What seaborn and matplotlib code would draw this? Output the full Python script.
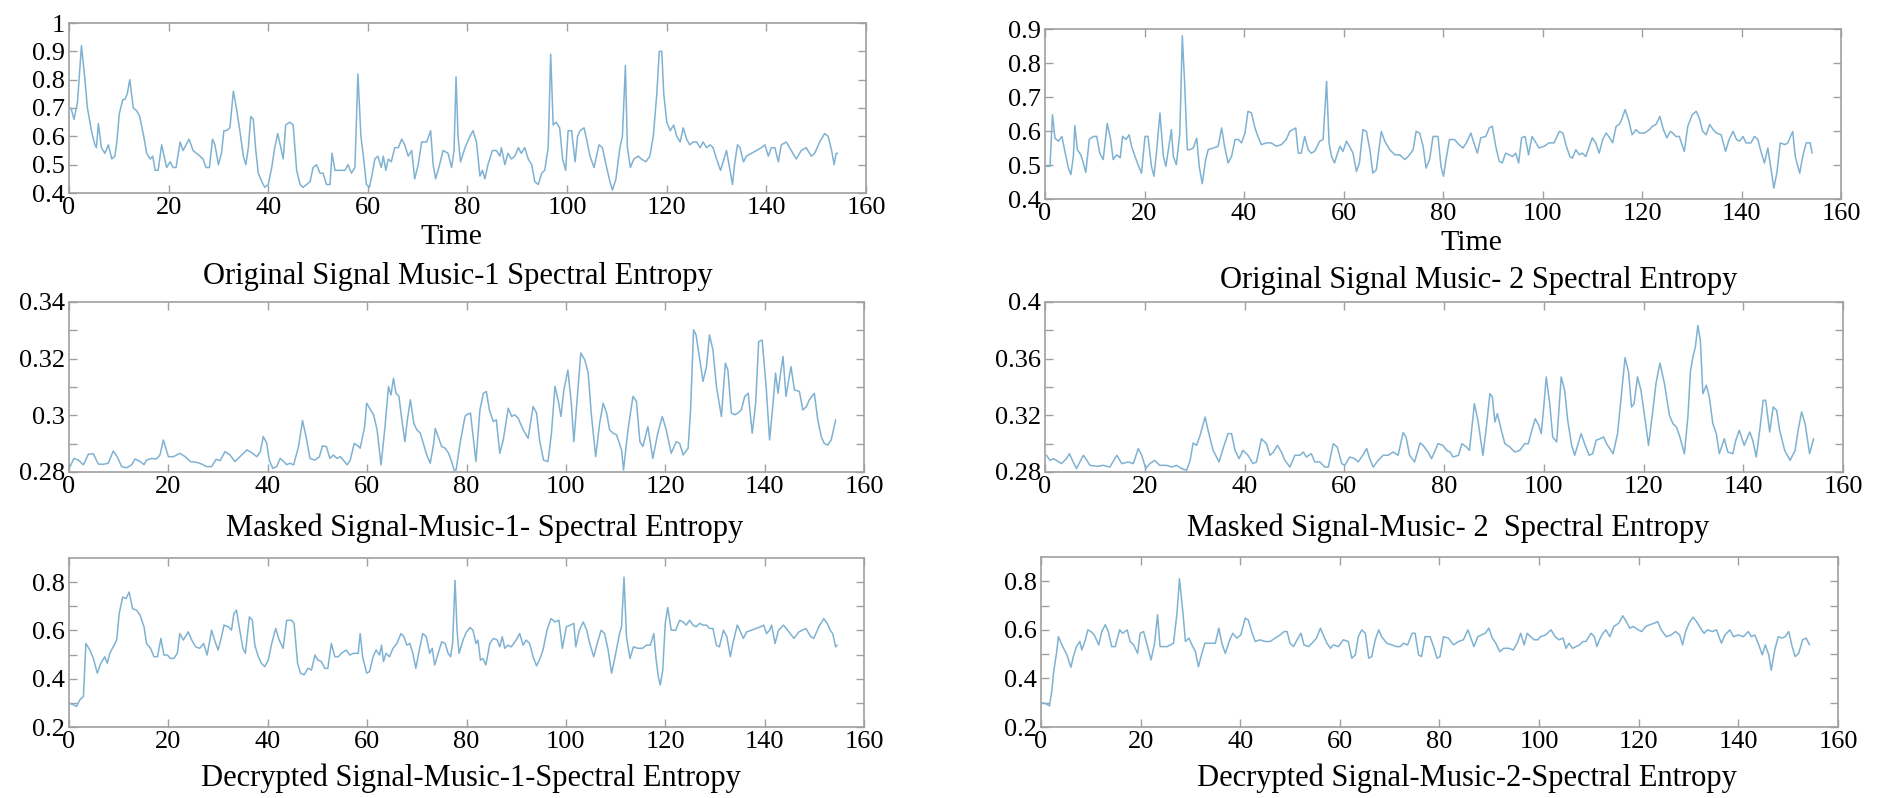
import matplotlib
matplotlib.use("Agg")
import matplotlib.pyplot as plt
import pandas as pd
import seaborn as sns

# Spectral entropy traces: (time, entropy) pairs
orig1 = [(0.4,0.70),(1.0,0.66),(1.7,0.72),(2.5,0.92),(3.2,0.80),(3.7,0.70),(4.5,0.62),(5.2,0.57),(5.5,0.56),(5.9,0.645),(6.5,0.56),(7.2,0.54),(7.9,0.57),(8.6,0.52),(9.2,0.53),(9.6,0.58),(10.1,0.68),(10.8,0.73),(11.2,0.73),(11.7,0.75),(12.2,0.80),(12.9,0.70),(13.6,0.69),(14.2,0.67),(15.0,0.60),(15.6,0.54),(16.3,0.52),(16.8,0.53),(17.3,0.48),(17.9,0.48),(18.6,0.57),(19.1,0.53),(19.6,0.49),(20.3,0.51),(20.9,0.49),(21.5,0.49),(22.3,0.58),(22.9,0.55),(23.5,0.57),(24.1,0.59),(24.9,0.55),(25.6,0.54),(26.3,0.53),(26.9,0.52),(27.5,0.49),(28.2,0.49),(28.8,0.59),(29.3,0.57),(30.0,0.50),(30.6,0.54),(31.1,0.62),(31.6,0.62),(32.3,0.63),(33.0,0.76),(33.6,0.70),(34.3,0.62),(35.0,0.53),(35.5,0.50),(36.0,0.56),(36.5,0.67),(37.0,0.66),(37.5,0.55),(38.0,0.47),(38.7,0.44),(39.3,0.42),(40.0,0.43),(40.7,0.49),(41.3,0.56),(41.9,0.61),(42.4,0.57),(43.0,0.52),(43.5,0.64),(44.3,0.65),(45.0,0.64),(45.7,0.48),(46.4,0.43),(47.0,0.42),(47.7,0.43),(48.4,0.44),(49.0,0.49),(49.7,0.50),(50.4,0.47),(51.0,0.47),(51.7,0.43),(52.4,0.43),(52.8,0.54),(53.4,0.48),(54.0,0.48),(54.7,0.48),(55.4,0.48),(56.0,0.50),(56.7,0.47),(57.4,0.49),(58.0,0.82),(58.6,0.60),(59.1,0.53),(59.7,0.43),(60.3,0.42),(60.8,0.46),(61.4,0.52),(62.0,0.53),(62.7,0.49),(63.1,0.53),(63.6,0.48),(64.1,0.52),(64.7,0.51),(65.4,0.56),(66.1,0.56),(66.8,0.59),(67.4,0.57),(68.1,0.53),(68.8,0.55),(69.4,0.45),(70.1,0.50),(70.8,0.58),(71.8,0.58),(72.6,0.62),(73.1,0.50),(73.6,0.45),(74.4,0.50),(75.1,0.55),(76.1,0.54),(76.8,0.49),(77.3,0.55),(77.7,0.81),(78.1,0.60),(78.6,0.51),(79.5,0.56),(80.5,0.60),(81.1,0.62),(81.8,0.58),(82.1,0.53),(82.5,0.46),(83.0,0.48),(83.5,0.45),(84.1,0.50),(85.0,0.55),(85.8,0.55),(86.5,0.53),(86.8,0.56),(87.5,0.50),(88.1,0.54),(88.8,0.52),(89.5,0.53),(90.2,0.56),(90.8,0.54),(91.5,0.56),(92.2,0.52),(92.9,0.50),(93.5,0.44),(94.2,0.43),(94.9,0.47),(95.5,0.48),(96.2,0.56),(96.7,0.89),(97.2,0.64),(97.8,0.65),(98.5,0.63),(99.1,0.52),(99.7,0.48),(100.2,0.62),(100.9,0.62),(101.6,0.51),(102.1,0.60),(102.6,0.62),(103.4,0.63),(103.9,0.59),(104.6,0.53),(105.4,0.49),(105.9,0.53),(106.4,0.57),(107.1,0.56),(107.8,0.50),(108.6,0.44),(109.1,0.41),(109.8,0.45),(110.6,0.56),(111.1,0.60),(111.7,0.85),(112.1,0.56),(112.7,0.49),(113.4,0.52),(114.3,0.53),(114.9,0.52),(115.8,0.51),(116.6,0.53),(117.3,0.60),(118.0,0.75),(118.5,0.90),(119.0,0.90),(119.4,0.75),(120.0,0.65),(120.7,0.62),(121.4,0.64),(122.0,0.60),(122.7,0.58),(123.3,0.63),(124.0,0.59),(124.6,0.57),(125.3,0.58),(126.0,0.58),(126.7,0.56),(127.3,0.58),(128.0,0.56),(128.7,0.57),(129.3,0.56),(130.0,0.52),(130.8,0.48),(131.5,0.52),(132.0,0.55),(132.7,0.48),(133.2,0.43),(133.6,0.50),(134.2,0.57),(134.7,0.56),(135.4,0.51),(136.0,0.53),(137.0,0.54),(138.0,0.55),(139.0,0.56),(139.7,0.57),(140.4,0.53),(141.0,0.56),(141.7,0.56),(142.4,0.51),(143.0,0.57),(144.0,0.58),(145.0,0.55),(146.0,0.52),(147.0,0.55),(148.0,0.56),(149.0,0.53),(149.7,0.54),(150.7,0.58),(151.7,0.61),(152.4,0.60),(153.1,0.55),(153.6,0.50),(154.0,0.54),(154.3,0.54)]

masked1 = [(0.2,0.2819),(1.0,0.2848),(1.9,0.2842),(2.9,0.2825),(3.9,0.2863),(4.9,0.2864),(5.9,0.2828),(6.9,0.2827),(7.9,0.2831),(8.9,0.2874),(9.7,0.2854),(10.6,0.2819),(11.6,0.2815),(12.6,0.2825),(13.3,0.2846),(14.3,0.2837),(15.1,0.2826),(15.6,0.2842),(16.6,0.2848),(17.6,0.2846),(18.3,0.2860),(19.0,0.2913),(20.0,0.2854),(21.0,0.2854),(22.3,0.2866),(23.4,0.2854),(24.4,0.2837),(25.7,0.2834),(26.7,0.2828),(27.7,0.2819),(28.7,0.2819),(29.6,0.2845),(30.4,0.2840),(31.4,0.2872),(32.4,0.2860),(33.4,0.2837),(34.4,0.2854),(35.8,0.2878),(36.8,0.2868),(37.8,0.2854),(38.5,0.2872),(39.1,0.2925),(39.8,0.2901),(40.3,0.2842),(41.0,0.2813),(41.8,0.2819),(42.5,0.2848),(43.2,0.2837),(43.8,0.2826),(44.5,0.2831),(45.2,0.2825),(46.2,0.2890),(47.0,0.2982),(47.7,0.2925),(48.5,0.2848),(49.5,0.2842),(50.4,0.2854),(51.0,0.2892),(51.8,0.2890),(52.5,0.2848),(53.2,0.2860),(53.9,0.2848),(54.6,0.2854),(55.2,0.2842),(56.0,0.2825),(56.6,0.2842),(57.4,0.2901),(58.3,0.2890),(58.6,0.2884),(59.5,0.2960),(59.9,0.3043),(60.7,0.3019),(61.3,0.3002),(62.0,0.2949),(62.8,0.2825),(63.6,0.2960),(64.3,0.3102),(64.8,0.3072),(65.3,0.3131),(65.8,0.3078),(66.4,0.3067),(66.9,0.2996),(67.6,0.2907),(68.1,0.2984),(68.7,0.3055),(69.4,0.2972),(70.0,0.2949),(70.7,0.2937),(71.3,0.2901),(72.0,0.2860),(72.7,0.2831),(73.4,0.2901),(73.7,0.2954),(74.4,0.2919),(75.0,0.2890),(75.7,0.2884),(76.4,0.2866),(77.0,0.2837),(77.5,0.2807),(77.9,0.2807),(78.7,0.2901),(79.7,0.2996),(80.0,0.3002),(80.8,0.3008),(81.9,0.2837),(82.7,0.3019),(83.4,0.3078),(84.0,0.3084),(84.6,0.3019),(85.4,0.2978),(86.0,0.2984),(86.7,0.2866),(87.4,0.2913),(88.4,0.3025),(89.1,0.2996),(89.7,0.3002),(90.4,0.2990),(91.4,0.2949),(92.4,0.2919),(93.4,0.3031),(94.1,0.3008),(94.7,0.2913),(95.5,0.2842),(96.4,0.2837),(97.1,0.2937),(97.8,0.3102),(98.5,0.3049),(99.0,0.2996),(99.6,0.3090),(100.4,0.3160),(101.1,0.3043),(101.6,0.2907),(102.2,0.3043),(103.0,0.3220),(103.8,0.3196),(104.5,0.3149),(105.1,0.3008),(106.0,0.2854),(106.8,0.2972),(107.5,0.3043),(108.2,0.3008),(108.8,0.2949),(109.5,0.2937),(110.2,0.2931),(111.2,0.2878),(111.6,0.2807),(112.5,0.2949),(113.5,0.3067),(114.2,0.3049),(114.9,0.2907),(115.5,0.2890),(116.5,0.2960),(117.5,0.2848),(118.5,0.2937),(119.4,0.2996),(120.2,0.2949),(121.2,0.2866),(122.2,0.2907),(122.9,0.2901),(123.6,0.2860),(124.6,0.2884),(125.1,0.3019),(125.7,0.3302),(126.2,0.3284),(127.0,0.3190),(127.6,0.3120),(128.3,0.3172),(128.9,0.3284),(129.6,0.3231),(130.3,0.3102),(131.3,0.2996),(132.1,0.3184),(132.6,0.3160),(133.3,0.3008),(134.0,0.3002),(134.6,0.3008),(135.3,0.3019),(136.0,0.3067),(136.7,0.3078),(137.5,0.2937),(138.2,0.3043),(138.8,0.3260),(139.5,0.3266),(140.3,0.3102),(141.0,0.2913),(141.7,0.3043),(142.2,0.3149),(142.7,0.3078),(143.3,0.3160),(143.7,0.3208),(144.3,0.3067),(145.3,0.3172),(146.0,0.3090),(147.0,0.3084),(147.7,0.3019),(148.4,0.3031),(149.0,0.3055),(150.0,0.3078),(150.7,0.2984),(151.4,0.2925),(152.0,0.2901),(152.7,0.2895),(153.4,0.2913),(154.3,0.2984)]

decrypted1 = [(0.0,0.299),(0.9,0.292),(1.5,0.285),(2.2,0.313),(2.9,0.326),(3.4,0.546),(4.2,0.519),(4.9,0.484),(5.7,0.423),(6.4,0.464),(7.2,0.491),(7.7,0.464),(8.2,0.505),(8.9,0.532),(9.6,0.560),(10.1,0.670),(10.8,0.738),(11.5,0.732),(12.1,0.759),(12.8,0.690),(13.6,0.684),(14.3,0.663),(15.1,0.615),(15.6,0.546),(16.4,0.526),(17.1,0.491),(17.8,0.491),(18.5,0.567),(19.1,0.498),(19.8,0.498),(20.4,0.484),(21.1,0.484),(21.8,0.505),(22.3,0.587),(23.0,0.560),(24.0,0.594),(24.7,0.560),(25.5,0.532),(26.3,0.526),(27.1,0.546),(27.8,0.498),(28.7,0.601),(29.3,0.560),(30.0,0.519),(30.7,0.574),(31.2,0.622),(32.1,0.615),(32.7,0.601),(33.2,0.670),(33.7,0.684),(34.2,0.622),(35.0,0.526),(35.5,0.505),(36.3,0.656),(36.9,0.642),(37.4,0.539),(38.1,0.491),(38.7,0.464),(39.4,0.450),(40.1,0.477),(40.8,0.546),(41.6,0.608),(42.3,0.560),(43.1,0.526),(43.8,0.642),(44.8,0.642),(45.3,0.629),(46.0,0.464),(46.6,0.423),(47.3,0.416),(48.1,0.443),(48.8,0.436),(49.5,0.498),(50.1,0.477),(50.8,0.471),(51.5,0.443),(52.1,0.443),(52.8,0.546),(53.5,0.491),(54.2,0.491),(54.8,0.505),(55.8,0.519),(56.5,0.498),(57.2,0.505),(58.2,0.505),(58.6,0.587),(59.1,0.491),(59.9,0.423),(60.5,0.430),(61.2,0.491),(61.8,0.519),(62.5,0.498),(62.9,0.539),(63.3,0.471),(63.8,0.505),(64.5,0.491),(65.2,0.526),(66.0,0.546),(66.8,0.587),(67.4,0.574),(68.0,0.539),(68.6,0.546),(69.2,0.505),(69.8,0.443),(70.5,0.519),(71.2,0.587),(71.9,0.574),(72.6,0.505),(73.1,0.526),(73.6,0.457),(74.3,0.505),(75.0,0.553),(75.7,0.546),(76.3,0.505),(76.8,0.491),(77.2,0.546),(77.7,0.807),(78.1,0.601),(78.5,0.505),(79.3,0.560),(80.0,0.594),(80.7,0.612),(81.3,0.601),(81.9,0.546),(82.3,0.560),(82.8,0.477),(83.3,0.484),(83.9,0.457),(84.7,0.546),(85.4,0.567),(86.2,0.560),(86.7,0.532),(87.2,0.574),(87.7,0.526),(88.3,0.539),(89.0,0.532),(90.0,0.560),(90.7,0.587),(91.4,0.539),(92.0,0.560),(92.7,0.546),(93.4,0.491),(94.1,0.453),(94.8,0.484),(95.4,0.519),(96.2,0.601),(97.0,0.649),(97.8,0.635),(98.6,0.642),(99.3,0.526),(100.1,0.615),(100.9,0.622),(101.6,0.629),(102.0,0.532),(102.7,0.601),(103.5,0.635),(104.2,0.601),(104.8,0.546),(105.6,0.491),(106.5,0.560),(107.1,0.601),(107.8,0.587),(108.5,0.519),(109.2,0.423),(109.9,0.491),(110.8,0.587),(111.2,0.615),(111.7,0.821),(112.2,0.574),(112.9,0.484),(113.6,0.532),(114.5,0.526),(115.4,0.526),(116.2,0.539),(117.0,0.539),(117.7,0.587),(118.1,0.491),(118.6,0.409),(119.0,0.374),(119.5,0.436),(120.0,0.629),(120.5,0.695),(121.2,0.601),(122.1,0.601),(122.9,0.642),(123.6,0.635),(124.2,0.622),(124.9,0.642),(125.6,0.622),(126.2,0.615),(126.9,0.629),(127.6,0.622),(128.3,0.622),(128.9,0.608),(129.6,0.608),(130.3,0.539),(130.9,0.532),(131.7,0.601),(132.4,0.574),(133.1,0.491),(133.6,0.546),(134.5,0.622),(135.0,0.601),(135.7,0.567),(136.4,0.594),(137.4,0.601),(138.2,0.608),(139.2,0.615),(139.8,0.622),(140.4,0.587),(141.0,0.601),(141.4,0.622),(142.1,0.546),(142.8,0.601),(143.8,0.622),(144.9,0.594),(145.9,0.567),(146.9,0.594),(148.3,0.608),(149.3,0.574),(149.9,0.567),(150.9,0.615),(151.9,0.649),(152.6,0.629),(153.2,0.601),(153.7,0.587),(154.3,0.532),(154.6,0.539)]

orig2 = [(0.3,0.496),(1.0,0.496),(1.5,0.648),(2.0,0.579),(2.7,0.570),(3.4,0.584),(4.0,0.540),(4.7,0.491),(5.2,0.472),(5.7,0.525),(6.0,0.616),(6.5,0.545),(7.2,0.530),(7.7,0.506),(8.2,0.478),(8.9,0.575),(9.7,0.584),(10.4,0.584),(11.0,0.535),(11.7,0.516),(12.5,0.622),(13.2,0.575),(13.7,0.516),(14.4,0.530),(15.1,0.521),(15.6,0.584),(16.3,0.575),(16.9,0.589),(17.4,0.555),(18.1,0.525),(18.7,0.501),(19.4,0.476),(20.1,0.584),(20.7,0.584),(21.4,0.496),(21.9,0.467),(22.4,0.535),(23.1,0.653),(23.8,0.525),(24.3,0.496),(24.8,0.545),(25.4,0.604),(25.8,0.525),(26.4,0.501),(27.1,0.594),(27.6,0.880),(28.1,0.731),(28.6,0.545),(29.1,0.545),(29.8,0.550),(30.5,0.579),(31.0,0.496),(31.6,0.445),(32.3,0.516),(32.8,0.545),(33.8,0.550),(34.8,0.555),(35.5,0.609),(36.1,0.555),(36.8,0.506),(37.5,0.525),(38.2,0.575),(38.9,0.575),(39.5,0.565),(40.2,0.594),(40.8,0.658),(41.5,0.653),(42.2,0.609),(42.8,0.584),(43.5,0.560),(44.5,0.565),(45.5,0.565),(46.5,0.555),(47.5,0.560),(48.5,0.575),(49.2,0.599),(49.8,0.604),(50.4,0.609),(50.9,0.535),(51.5,0.535),(52.2,0.584),(52.9,0.545),(53.5,0.535),(54.2,0.540),(55.2,0.570),(55.9,0.575),(56.6,0.746),(57.1,0.565),(57.6,0.525),(58.2,0.506),(58.7,0.530),(59.3,0.555),(59.9,0.540),(60.6,0.570),(61.2,0.555),(61.9,0.535),(62.6,0.481),(63.2,0.506),(63.9,0.604),(64.6,0.599),(65.3,0.545),(65.9,0.476),(66.6,0.486),(67.6,0.599),(68.3,0.570),(69.3,0.545),(70.3,0.530),(71.3,0.530),(72.3,0.516),(73.0,0.525),(74.0,0.545),(74.6,0.599),(75.3,0.594),(76.0,0.555),(76.6,0.491),(77.3,0.516),(78.0,0.584),(79.0,0.584),(79.6,0.496),(80.1,0.467),(80.6,0.516),(81.3,0.575),(82.3,0.575),(83.2,0.560),(84.0,0.550),(84.7,0.565),(85.6,0.594),(86.2,0.565),(86.9,0.535),(87.6,0.580),(88.6,0.584),(89.3,0.609),(89.9,0.614),(90.6,0.555),(91.3,0.511),(91.9,0.506),(92.6,0.535),(93.3,0.530),(94.0,0.525),(94.6,0.535),(95.2,0.506),(95.8,0.580),(96.5,0.584),(97.2,0.530),(97.9,0.584),(98.7,0.565),(99.3,0.550),(100.3,0.555),(101.3,0.565),(102.3,0.565),(103.4,0.599),(104.1,0.594),(104.8,0.555),(105.5,0.525),(106.0,0.520),(106.7,0.545),(107.4,0.530),(108.0,0.535),(108.7,0.525),(109.4,0.555),(110.0,0.580),(110.7,0.565),(111.4,0.535),(112.1,0.575),(112.8,0.594),(113.5,0.580),(114.1,0.565),(114.8,0.614),(115.4,0.619),(115.9,0.633),(116.6,0.663),(117.3,0.633),(118.0,0.589),(118.8,0.604),(119.5,0.594),(120.5,0.594),(121.5,0.604),(122.1,0.614),(122.8,0.619),(123.6,0.643),(124.3,0.604),(125.0,0.580),(125.7,0.599),(126.2,0.594),(126.8,0.584),(127.5,0.584),(128.5,0.540),(129.2,0.614),(130.1,0.648),(130.9,0.658),(131.5,0.638),(132.2,0.599),(132.9,0.589),(133.6,0.619),(134.3,0.604),(135.0,0.594),(135.9,0.589),(136.8,0.540),(137.5,0.575),(138.3,0.599),(139.0,0.575),(139.6,0.570),(140.3,0.584),(140.9,0.565),(141.9,0.565),(142.6,0.584),(143.3,0.575),(143.9,0.540),(144.6,0.506),(145.3,0.550),(145.8,0.501),(146.5,0.432),(147.1,0.476),(147.8,0.565),(148.7,0.560),(149.3,0.565),(150.3,0.599),(150.8,0.525),(151.7,0.476),(152.3,0.525),(153.0,0.565),(153.8,0.565),(154.2,0.535)]

masked2 = [(0.3,0.2918),(1.0,0.2882),(1.7,0.2894),(2.3,0.2882),(3.3,0.2859),(4.3,0.2894),(4.9,0.2929),(5.5,0.2882),(6.3,0.2824),(7.0,0.2871),(7.7,0.2918),(8.4,0.2882),(9.0,0.2847),(10.4,0.2840),(11.7,0.2847),(13.0,0.2835),(14.4,0.2918),(15.4,0.2859),(16.7,0.2871),(17.7,0.2859),(18.7,0.2965),(19.4,0.2918),(20.2,0.2824),(21.0,0.2859),(22.0,0.2882),(23.0,0.2847),(24.4,0.2847),(25.4,0.2835),(26.4,0.2847),(27.4,0.2824),(28.4,0.2812),(29.1,0.2882),(29.7,0.3005),(30.4,0.2988),(31.1,0.3059),(32.1,0.3188),(32.7,0.3094),(33.7,0.2953),(34.9,0.2871),(35.7,0.2965),(36.7,0.3071),(37.4,0.3071),(38.1,0.2953),(38.9,0.2894),(39.7,0.2953),(40.7,0.2918),(41.7,0.2859),(42.4,0.2871),(43.4,0.3035),(44.4,0.3000),(45.1,0.2918),(45.8,0.2941),(46.6,0.2988),(47.4,0.2941),(48.1,0.2882),(49.1,0.2835),(50.1,0.2918),(51.1,0.2918),(51.8,0.2941),(52.4,0.2906),(53.4,0.2929),(54.1,0.2871),(55.1,0.2871),(56.1,0.2835),(56.8,0.2835),(57.8,0.3000),(58.6,0.2976),(59.5,0.2859),(60.1,0.2847),(61.1,0.2906),(62.1,0.2894),(62.8,0.2871),(63.7,0.2918),(64.5,0.2965),(65.1,0.2894),(65.8,0.2835),(66.8,0.2882),(67.8,0.2918),(68.8,0.2918),(69.8,0.2941),(70.8,0.2918),(71.8,0.3078),(72.4,0.3047),(73.1,0.2918),(74.1,0.2871),(75.2,0.3005),(75.8,0.2988),(76.8,0.2941),(77.5,0.2894),(78.1,0.2941),(78.8,0.3000),(79.8,0.2988),(80.5,0.2953),(81.2,0.2941),(81.8,0.2906),(82.9,0.2918),(83.6,0.3000),(84.5,0.2976),(85.1,0.2953),(86.1,0.3282),(86.8,0.3165),(87.8,0.2918),(88.5,0.3118),(89.2,0.3353),(89.7,0.3329),(90.2,0.3153),(90.7,0.3212),(91.5,0.3094),(92.2,0.3000),(93.2,0.2976),(94.2,0.2941),(95.2,0.2953),(96.2,0.3000),(96.9,0.3000),(97.6,0.3094),(98.3,0.3176),(99.0,0.3129),(99.5,0.3071),(100.0,0.3259),(100.5,0.3471),(101.2,0.3282),(101.8,0.3047),(102.6,0.3012),(103.5,0.3471),(104.2,0.3376),(104.8,0.3165),(105.6,0.2988),(106.2,0.2918),(106.8,0.2988),(107.5,0.3071),(108.3,0.2988),(109.1,0.2918),(109.8,0.2929),(110.5,0.3024),(111.3,0.3035),(112.0,0.3047),(112.6,0.3000),(113.9,0.2929),(114.8,0.3071),(115.6,0.3353),(116.3,0.3607),(117.0,0.3506),(117.6,0.3259),(118.1,0.3282),(118.8,0.3471),(119.5,0.3376),(120.2,0.3200),(121.0,0.2988),(121.8,0.3212),(122.5,0.3424),(123.3,0.3569),(124.2,0.3424),(125.2,0.3200),(125.9,0.3141),(126.6,0.3118),(127.3,0.3047),(128.2,0.2929),(128.9,0.3188),(129.4,0.3506),(129.9,0.3612),(130.4,0.3682),(130.9,0.3835),(131.4,0.3729),(131.9,0.3353),(132.6,0.3412),(133.2,0.3329),(133.9,0.3141),(134.6,0.3071),(135.2,0.2929),(136.2,0.3035),(136.9,0.2941),(137.9,0.2929),(138.5,0.3024),(139.2,0.3094),(140.2,0.2988),(141.3,0.3082),(141.9,0.3024),(142.6,0.2906),(143.3,0.3094),(144.0,0.3306),(144.5,0.3306),(145.3,0.3082),(146.0,0.3259),(146.7,0.3235),(147.3,0.3094),(148.3,0.2953),(149.4,0.2882),(150.4,0.2953),(151.0,0.3094),(151.7,0.3224),(152.4,0.3141),(153.3,0.2929),(154.1,0.3035)]

decrypted2 = [(0.2,0.299),(0.9,0.297),(1.7,0.287),(2.2,0.352),(2.5,0.421),(3.1,0.503),(3.5,0.572),(4.2,0.538),(5.2,0.497),(6.0,0.446),(6.5,0.490),(7.1,0.531),(7.8,0.552),(8.2,0.517),(8.9,0.559),(9.4,0.600),(10.0,0.593),(10.7,0.579),(11.6,0.538),(12.2,0.593),(12.9,0.621),(13.5,0.593),(14.2,0.531),(14.9,0.531),(15.8,0.600),(16.4,0.586),(17.3,0.600),(17.9,0.552),(18.6,0.538),(19.4,0.503),(19.9,0.586),(20.6,0.593),(21.3,0.538),(22.1,0.476),(22.8,0.545),(23.4,0.662),(23.9,0.531),(24.6,0.531),(25.3,0.531),(26.0,0.538),(26.6,0.545),(27.3,0.669),(27.8,0.810),(28.5,0.669),(29.0,0.552),(29.7,0.566),(30.3,0.538),(31.0,0.510),(31.6,0.448),(32.3,0.503),(32.9,0.545),(33.9,0.545),(35.0,0.545),(35.7,0.607),(36.3,0.545),(37.0,0.503),(37.9,0.559),(38.5,0.586),(39.3,0.566),(40.1,0.579),(41.0,0.648),(41.6,0.641),(42.4,0.586),(43.0,0.552),(44.0,0.559),(45.0,0.552),(46.0,0.552),(47.0,0.566),(48.0,0.579),(48.8,0.593),(49.4,0.593),(50.0,0.545),(50.7,0.531),(51.4,0.559),(52.2,0.586),(52.8,0.538),(53.7,0.531),(54.4,0.545),(55.3,0.566),(56.1,0.607),(56.8,0.572),(57.4,0.545),(58.1,0.524),(58.7,0.538),(59.7,0.531),(60.7,0.559),(61.7,0.552),(62.4,0.483),(63.1,0.497),(63.7,0.572),(64.4,0.600),(65.1,0.586),(65.8,0.483),(66.4,0.490),(67.1,0.559),(67.8,0.600),(68.4,0.572),(69.4,0.545),(70.4,0.538),(71.4,0.531),(72.1,0.531),(72.8,0.545),(73.6,0.538),(74.5,0.586),(75.1,0.586),(75.8,0.497),(76.4,0.490),(77.1,0.572),(78.1,0.572),(78.8,0.531),(79.5,0.483),(80.1,0.490),(80.8,0.572),(81.8,0.566),(82.8,0.538),(83.8,0.552),(84.8,0.559),(85.7,0.600),(86.2,0.572),(86.9,0.531),(87.7,0.572),(88.4,0.579),(89.2,0.586),(89.9,0.607),(90.6,0.566),(91.3,0.545),(92.1,0.510),(92.9,0.524),(94.0,0.524),(94.8,0.517),(95.6,0.545),(96.3,0.586),(97.0,0.538),(97.6,0.586),(98.3,0.572),(99.0,0.559),(99.7,0.559),(100.3,0.572),(101.3,0.579),(102.4,0.600),(103.2,0.572),(104.0,0.559),(104.8,0.566),(105.4,0.524),(106.0,0.545),(106.7,0.524),(107.4,0.531),(108.1,0.538),(108.8,0.552),(109.4,0.552),(110.4,0.586),(111.1,0.572),(111.6,0.531),(112.1,0.559),(112.8,0.586),(113.4,0.600),(114.2,0.572),(115.0,0.614),(116.0,0.628),(116.8,0.658),(117.5,0.634),(118.2,0.607),(118.9,0.614),(119.9,0.600),(120.6,0.593),(121.4,0.614),(122.2,0.621),(123.2,0.628),(123.8,0.634),(124.5,0.600),(125.5,0.572),(126.5,0.579),(127.4,0.593),(128.2,0.579),(128.8,0.538),(129.4,0.593),(130.1,0.628),(130.9,0.652),(131.6,0.634),(132.4,0.607),(133.1,0.586),(133.8,0.600),(134.8,0.593),(135.6,0.600),(136.6,0.545),(137.3,0.579),(138.3,0.600),(139.0,0.572),(140.0,0.579),(141.0,0.572),(142.0,0.593),(142.6,0.572),(143.3,0.579),(144.1,0.538),(144.8,0.497),(145.4,0.538),(146.1,0.497),(146.6,0.434),(147.3,0.517),(148.0,0.572),(148.8,0.566),(149.4,0.572),(150.1,0.593),(150.8,0.531),(151.4,0.490),(152.1,0.503),(152.9,0.559),(153.6,0.566),(154.3,0.538)]

# Axis tick settings per panel
x_ticks = [0, 20, 40, 60, 80, 100, 120, 140, 160]
yt_orig1 = [0.4, 0.5, 0.6, 0.7, 0.8, 0.9, 1.0]
yl_orig1 = ["0.4", "0.5", "0.6", "0.7", "0.8", "0.9", "1"]
yt_orig2 = [0.4, 0.5, 0.6, 0.7, 0.8, 0.9]
yl_orig2 = ["0.4", "0.5", "0.6", "0.7", "0.8", "0.9"]
yt_mask1 = [0.28, 0.29, 0.30, 0.31, 0.32, 0.33, 0.34]
yl_mask1 = ["0.28", "", "0.3", "", "0.32", "", "0.34"]
yt_mask2 = [0.28, 0.30, 0.32, 0.34, 0.36, 0.38, 0.40]
yl_mask2 = ["0.28", "", "0.32", "", "0.36", "", "0.4"]
yt_dec = [0.2, 0.3, 0.4, 0.5, 0.6, 0.7, 0.8]
yl_dec = ["0.2", "", "0.4", "", "0.6", "", "0.8"]

titles = [
    "Original Signal Music-1 Spectral Entropy",
    "Original Signal Music- 2 Spectral Entropy",
    "Masked Signal-Music-1- Spectral Entropy",
    "Masked Signal-Music- 2  Spectral Entropy",
    "Decrypted Signal-Music-1-Spectral Entropy",
    "Decrypted Signal-Music-2-Spectral Entropy",
]

sns.set_theme(style="white")
plt.rcParams["font.family"] = ["Liberation Serif", "DejaVu Serif"]

W, H = 1881, 798
fig = plt.figure(figsize=(W / 100, H / 100), dpi=100)
fig.patch.set_facecolor("white")

LINE = "#7fb2d2"
EDGE = "#a0a0a0"


def box(left, top, right, bottom):
    return [left / W, 1 - bottom / H, (right - left) / W, (bottom - top) / H]


panels = [
    (orig1, box(69, 23, 866, 193), (0.4, 1.0), yt_orig1, yl_orig1),
    (orig2, box(1045, 29, 1841, 199), (0.4, 0.9), yt_orig2, yl_orig2),
    (masked1, box(69, 302, 864, 472), (0.28, 0.34), yt_mask1, yl_mask1),
    (masked2, box(1045, 302, 1843, 472), (0.28, 0.40), yt_mask2, yl_mask2),
    (decrypted1, box(69, 558, 864, 727), (0.2, 0.9), yt_dec, yl_dec),
    (decrypted2, box(1041, 557, 1838, 727), (0.2, 0.9), yt_dec, yl_dec),
]

for series, rect, ylim, yt, yl in panels:
    ax = fig.add_axes(rect)
    df = pd.DataFrame(series, columns=["time", "entropy"])
    sns.lineplot(data=df, x="time", y="entropy", ax=ax, color=LINE,
                 linewidth=1.1, sort=False, estimator=None)
    ax.set_xlim(0, 160)
    ax.set_ylim(*ylim)
    ax.set_xticks(x_ticks)
    ax.set_xticklabels([str(v) for v in x_ticks])
    ax.set_yticks(yt)
    ax.set_yticklabels(yl)
    ax.set_xlabel("")
    ax.set_ylabel("")
    ax.tick_params(axis="both", direction="in", length=6, width=1.0,
                   color=EDGE, labelsize=19, labelcolor="black",
                   top=True, right=True, bottom=True, left=True, pad=3)
    for sp in ax.spines.values():
        sp.set_color(EDGE)
        sp.set_linewidth(1.2)
        sp.set_visible(True)


def label(x, y, s, size=22):
    fig.text(x / W, 1 - y / H, s, ha="center", va="baseline",
             fontsize=size, color="black")


label(451, 244, "Time", 21.5)
label(1471, 250, "Time", 21.5)
label(458, 284, titles[0])
label(1479, 288, titles[1])
label(485, 536, titles[2])
label(1448, 536, titles[3])
label(471, 786, titles[4])
label(1467, 786, titles[5])

fig.savefig("out.png", dpi=100, facecolor="white")
